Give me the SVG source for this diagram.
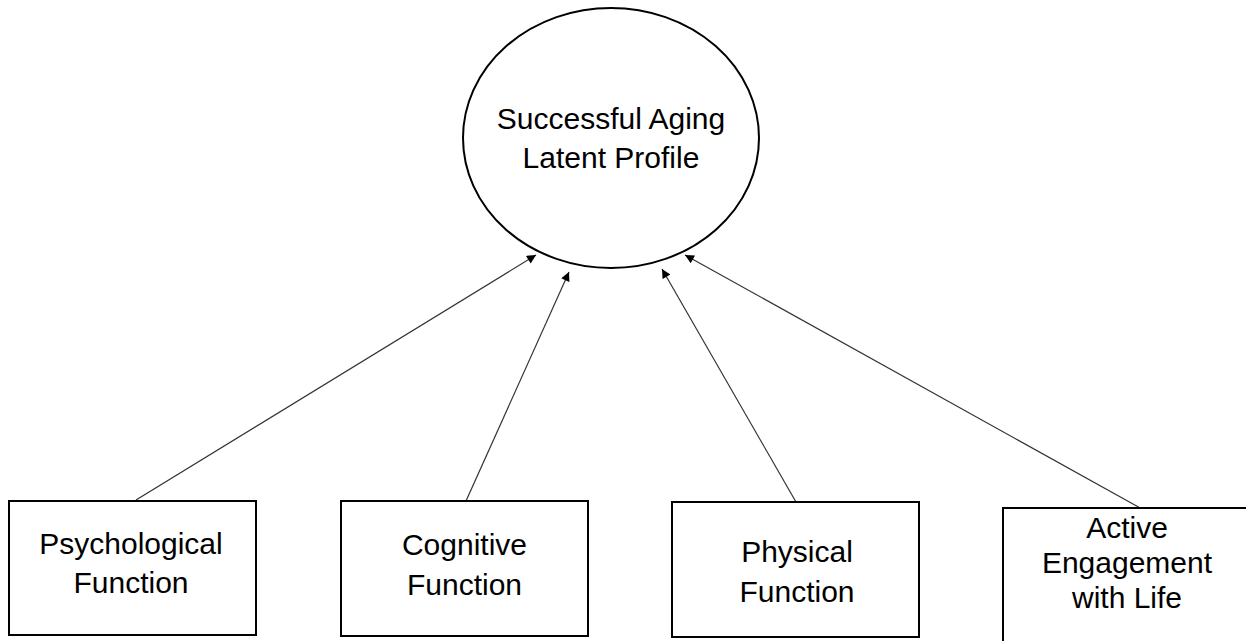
<svg xmlns="http://www.w3.org/2000/svg" width="1246" height="641" viewBox="0 0 1246 641">
<style>
.box{fill:#fff;stroke:#000;stroke-width:2}
.lbl{font-family:"Liberation Sans",Arial,sans-serif;font-size:30px;fill:#000;text-anchor:middle}
.edge{stroke:#333;stroke-width:1.2;fill:none;marker-end:url(#ah)}
</style>
<defs>
<marker id="ah" viewBox="0 0 10 10" refX="10" refY="5" markerWidth="10" markerHeight="9" markerUnits="userSpaceOnUse" orient="auto">
<path d="M0,0 L10,5 L0,10 z" fill="#000"/>
</marker>
</defs>
<rect width="1246" height="641" fill="#fff"/>
<g id="connectors">
<line class="edge" x1="136" y1="500" x2="536" y2="255"/>
<line class="edge" x1="466" y1="501" x2="569" y2="272"/>
<line class="edge" x1="796" y1="502" x2="662" y2="269"/>
<line class="edge" x1="1142" y1="509" x2="685" y2="255"/>
</g>
<g id="latent">
<ellipse cx="611" cy="138" rx="148" ry="130" fill="#fff" stroke="#000" stroke-width="2"/>
<text class="lbl" x="611" y="129">Successful Aging</text>
<text class="lbl" x="611" y="168">Latent Profile</text>
</g>
<g id="psychological">
<rect class="box" x="9" y="501" width="247" height="134"/>
<text class="lbl" x="131" y="554">Psychological</text>
<text class="lbl" x="131" y="593">Function</text>
</g>
<g id="cognitive">
<rect class="box" x="341" y="501" width="247" height="135"/>
<text class="lbl" x="464.5" y="555">Cognitive</text>
<text class="lbl" x="464.5" y="595">Function</text>
</g>
<g id="physical">
<rect class="box" x="672" y="502" width="247" height="135"/>
<text class="lbl" x="797" y="562">Physical</text>
<text class="lbl" x="797" y="602">Function</text>
</g>
<g id="engagement">
<rect class="box" x="1003" y="508" width="260" height="150"/>
<text class="lbl" x="1127" y="538">Active</text>
<text class="lbl" x="1127" y="573">Engagement</text>
<text class="lbl" x="1127" y="608">with Life</text>
</g>
</svg>
